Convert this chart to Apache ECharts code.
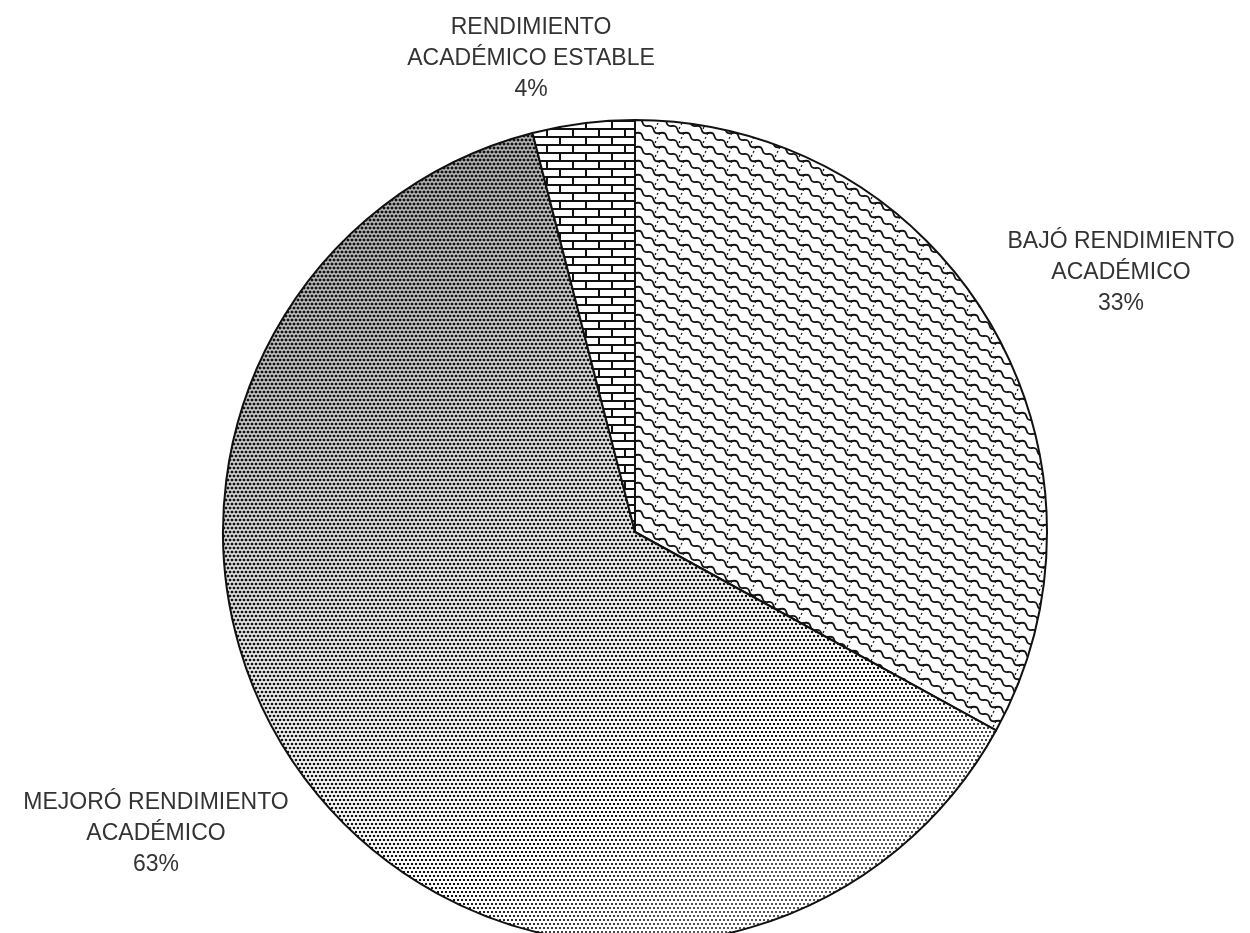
<!DOCTYPE html>
<html>
<head>
<meta charset="utf-8">
<script src="https://cdn.jsdelivr.net/npm/echarts@6/dist/echarts.min.js"></script>
<style>
html, body { margin: 0; padding: 0; background: #fff; }
#chart { width: 1250px; height: 933px; }
</style>
</head>
<body>
<div id="chart"></div>
<script>
// datos del gráfico
const categories = ['BAJÓ RENDIMIENTO\nACADÉMICO', 'MEJORÓ RENDIMIENTO\nACADÉMICO', 'RENDIMIENTO\nACADÉMICO ESTABLE']
const values = [33, 63, 4]

// posiciones de las etiquetas (centro x, borde superior y)
const labelPos = [[1121, 226], [156, 787], [531, 12]]

// trama de escamas
const makeScales = () => {
    const w = 24, h = 14
    const c = document.createElement('canvas')
    c.width = w; c.height = h
    const ctx = c.getContext('2d')
    ctx.fillStyle = '#fff'
    ctx.fillRect(0, 0, w, h)
    ctx.strokeStyle = '#111'
    for (let ox = -w; ox <= w; ox += w) {
        for (let oy = -h; oy <= h; oy += h) {
            ctx.lineWidth = 1.8
            ctx.setLineDash([])
            ctx.beginPath()
            ctx.moveTo(ox, oy)
            ctx.bezierCurveTo(ox + 9, oy - 1, ox + 2, oy + 9, ox + 12, oy + 7)
            ctx.bezierCurveTo(ox + 22, oy + 5, ox + 15, oy + 15, ox + 24, oy + 14)
            ctx.stroke()
            ctx.lineWidth = 1.3
            ctx.setLineDash([2, 2.5])
            ctx.beginPath()
            ctx.moveTo(ox + 12, oy + 7)
            ctx.lineTo(ox + 7, oy + 17)
            ctx.stroke()
        }
    }
    return c
}

// trama de ladrillos
const makeBricks = () => {
    const w = 26, h = 16
    const c = document.createElement('canvas')
    c.width = w; c.height = h
    const ctx = c.getContext('2d')
    ctx.fillStyle = '#fff'
    ctx.fillRect(0, 0, w, h)
    ctx.fillStyle = '#111'
    ctx.fillRect(0, 0, w, 2)
    ctx.fillRect(0, 8, w, 2)
    ctx.fillRect(0, 0, 2, 8)
    ctx.fillRect(13, 8, 2, 8)
    return c
}

// punteado con degradado (más oscuro arriba a la izquierda)
const makeStipple = () => {
    const W = 1250, H = 933
    const c = document.createElement('canvas')
    c.width = W; c.height = H
    const ctx = c.getContext('2d')
    ctx.fillStyle = '#fff'
    ctx.fillRect(0, 0, W, H)
    ctx.fillStyle = '#111'
    const vx = 350, vy = 700, len2 = vx * vx + vy * vy
    let row = 0
    for (let y = 0; y < H; y += 4, row++) {
        for (let x = (row % 2) * 2; x < W; x += 4) {
            let t = ((x - 330) * vx + (y - 220) * vy) / len2
            t = Math.max(0, Math.min(1, t))
            const cov = 0.6 - 0.42 * t
            const s = 4 * Math.sqrt(cov)
            ctx.fillRect(x - s / 2, y - s / 2, s, s)
        }
    }
    return c
}

const fills = [makeScales(), makeStipple(), makeBricks()]

let mychart = echarts.init(document.getElementById('chart'))
mychart.setOption({
    backgroundColor: '#fff',
    animation: false,
    series: [{
        type: 'pie',
        center: [635, 532],
        radius: 412,
        startAngle: 90,
        clockwise: true,
        avoidLabelOverlap: false,
        data: categories.map((name, i) => ({
            name: name,
            value: values[i],
            itemStyle: { color: { image: fills[i], repeat: i === 1 ? 'no-repeat' : 'repeat' } }
        })),
        itemStyle: { borderColor: '#111', borderWidth: 2 },
        label: {
            show: true,
            position: 'outside',
            formatter: p => p.name + '\n' + p.value + '%',
            fontFamily: 'Liberation Sans, Arial, sans-serif',
            fontSize: 23,
            lineHeight: 31,
            color: '#333',
            align: 'center'
        },
        labelLine: { show: false },
        labelLayout: p => {
            const pos = labelPos[p.dataIndex]
            return { x: pos[0], y: pos[1], align: 'center', verticalAlign: 'top' }
        },
        emphasis: { disabled: true }
    }]
})
</script>
</body>
</html>
